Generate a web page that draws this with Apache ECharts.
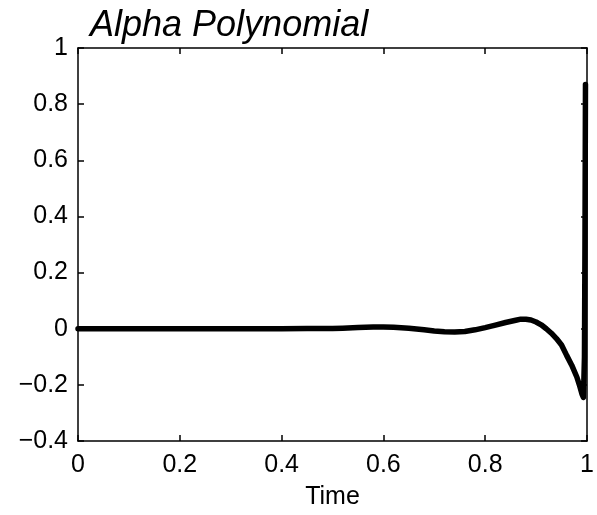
<!DOCTYPE html>
<html>
<head>
<meta charset="utf-8">
<script src="https://cdn.jsdelivr.net/npm/echarts@6/dist/echarts.min.js"></script>
<style>
html,body{margin:0;padding:0;background:#fff;}
#chart{width:597px;height:515px;}
</style>
</head>
<body>
<div id="chart"></div>
<script>
var titleText = "Alpha Polynomial";
var xLabel = "Time";
var timeValues = [0,0.05,0.1,0.15,0.2,0.25,0.3,0.35,0.4,0.45,0.5,0.52,0.55,0.58,0.6,0.62,0.65,0.68,0.7,0.72,0.74,0.76,0.78,0.8,0.82,0.84,0.86,0.87,0.88,0.89,0.9,0.91,0.92,0.93,0.94,0.95,0.96,0.97,0.98,0.985,0.99,0.993,0.995,0.996,0.997];
var alphaValues = [0,0,0,0,0,0,0,0,0,0.001,0.001,0.002,0.004,0.006,0.006,0.005,0.002,-0.004,-0.008,-0.011,-0.012,-0.01,-0.004,0.004,0.013,0.022,0.03,0.034,0.034,0.031,0.024,0.014,0.0,-0.016,-0.035,-0.058,-0.095,-0.13,-0.172,-0.2,-0.232,-0.245,-0.1,0.3,0.87];
var xTicks = [0,0.2,0.4,0.6,0.8,1];
var yTicks = [-0.4,-0.2,0,0.2,0.4,0.6,0.8,1];

var data = timeValues.map(function(t,i){return [t, alphaValues[i]];});
var font = "'Liberation Sans', Arial, sans-serif";
function fmt(v){ var s = String(Math.round(v*10)/10); return s.replace('-', '\u2212'); }

var chart = echarts.init(document.getElementById('chart'));
var axisCommon = {
  axisLine:{show:true, onZero:false, lineStyle:{color:'#000', width:1.5}},
  axisTick:{show:true, inside:true, length:6, lineStyle:{color:'#000', width:1.5}},
  splitLine:{show:false}
};
chart.setOption({
  backgroundColor:'#fff',
  animation:false,
  title:{text:titleText, left:85, top:3, textStyle:{fontFamily:font, fontStyle:'italic', fontWeight:'normal', fontSize:36, color:'#000'}},
  grid:{left:78, right:10, top:48, bottom:74, containLabel:false},
  xAxis:[
    Object.assign({type:'value', min:xTicks[0], max:xTicks[xTicks.length-1], interval:0.2, position:'bottom',
      name:xLabel, nameLocation:'middle', nameGap:44,
      nameTextStyle:{fontFamily:font, fontSize:25, color:'#000'},
      axisLabel:{fontFamily:font, fontSize:25, color:'#000', margin:12, formatter:fmt}}, axisCommon),
    Object.assign({type:'value', min:0, max:1, interval:0.2, position:'top', axisLabel:{show:false}}, axisCommon)
  ],
  yAxis:[
    Object.assign({type:'value', min:yTicks[0], max:yTicks[yTicks.length-1], interval:0.2, position:'left',
      axisLabel:{fontFamily:font, fontSize:25, color:'#000', margin:10, formatter:fmt}}, axisCommon),
    Object.assign({type:'value', min:-0.4, max:1, interval:0.2, position:'right', axisLabel:{show:false}}, axisCommon)
  ],
  series:[{
    type:'line', data:data, xAxisIndex:0, yAxisIndex:0, showSymbol:false, smooth:false,
    lineStyle:{color:'#000', width:5.5, join:'round', cap:'round'}
  }]
});
</script>
</body>
</html>
